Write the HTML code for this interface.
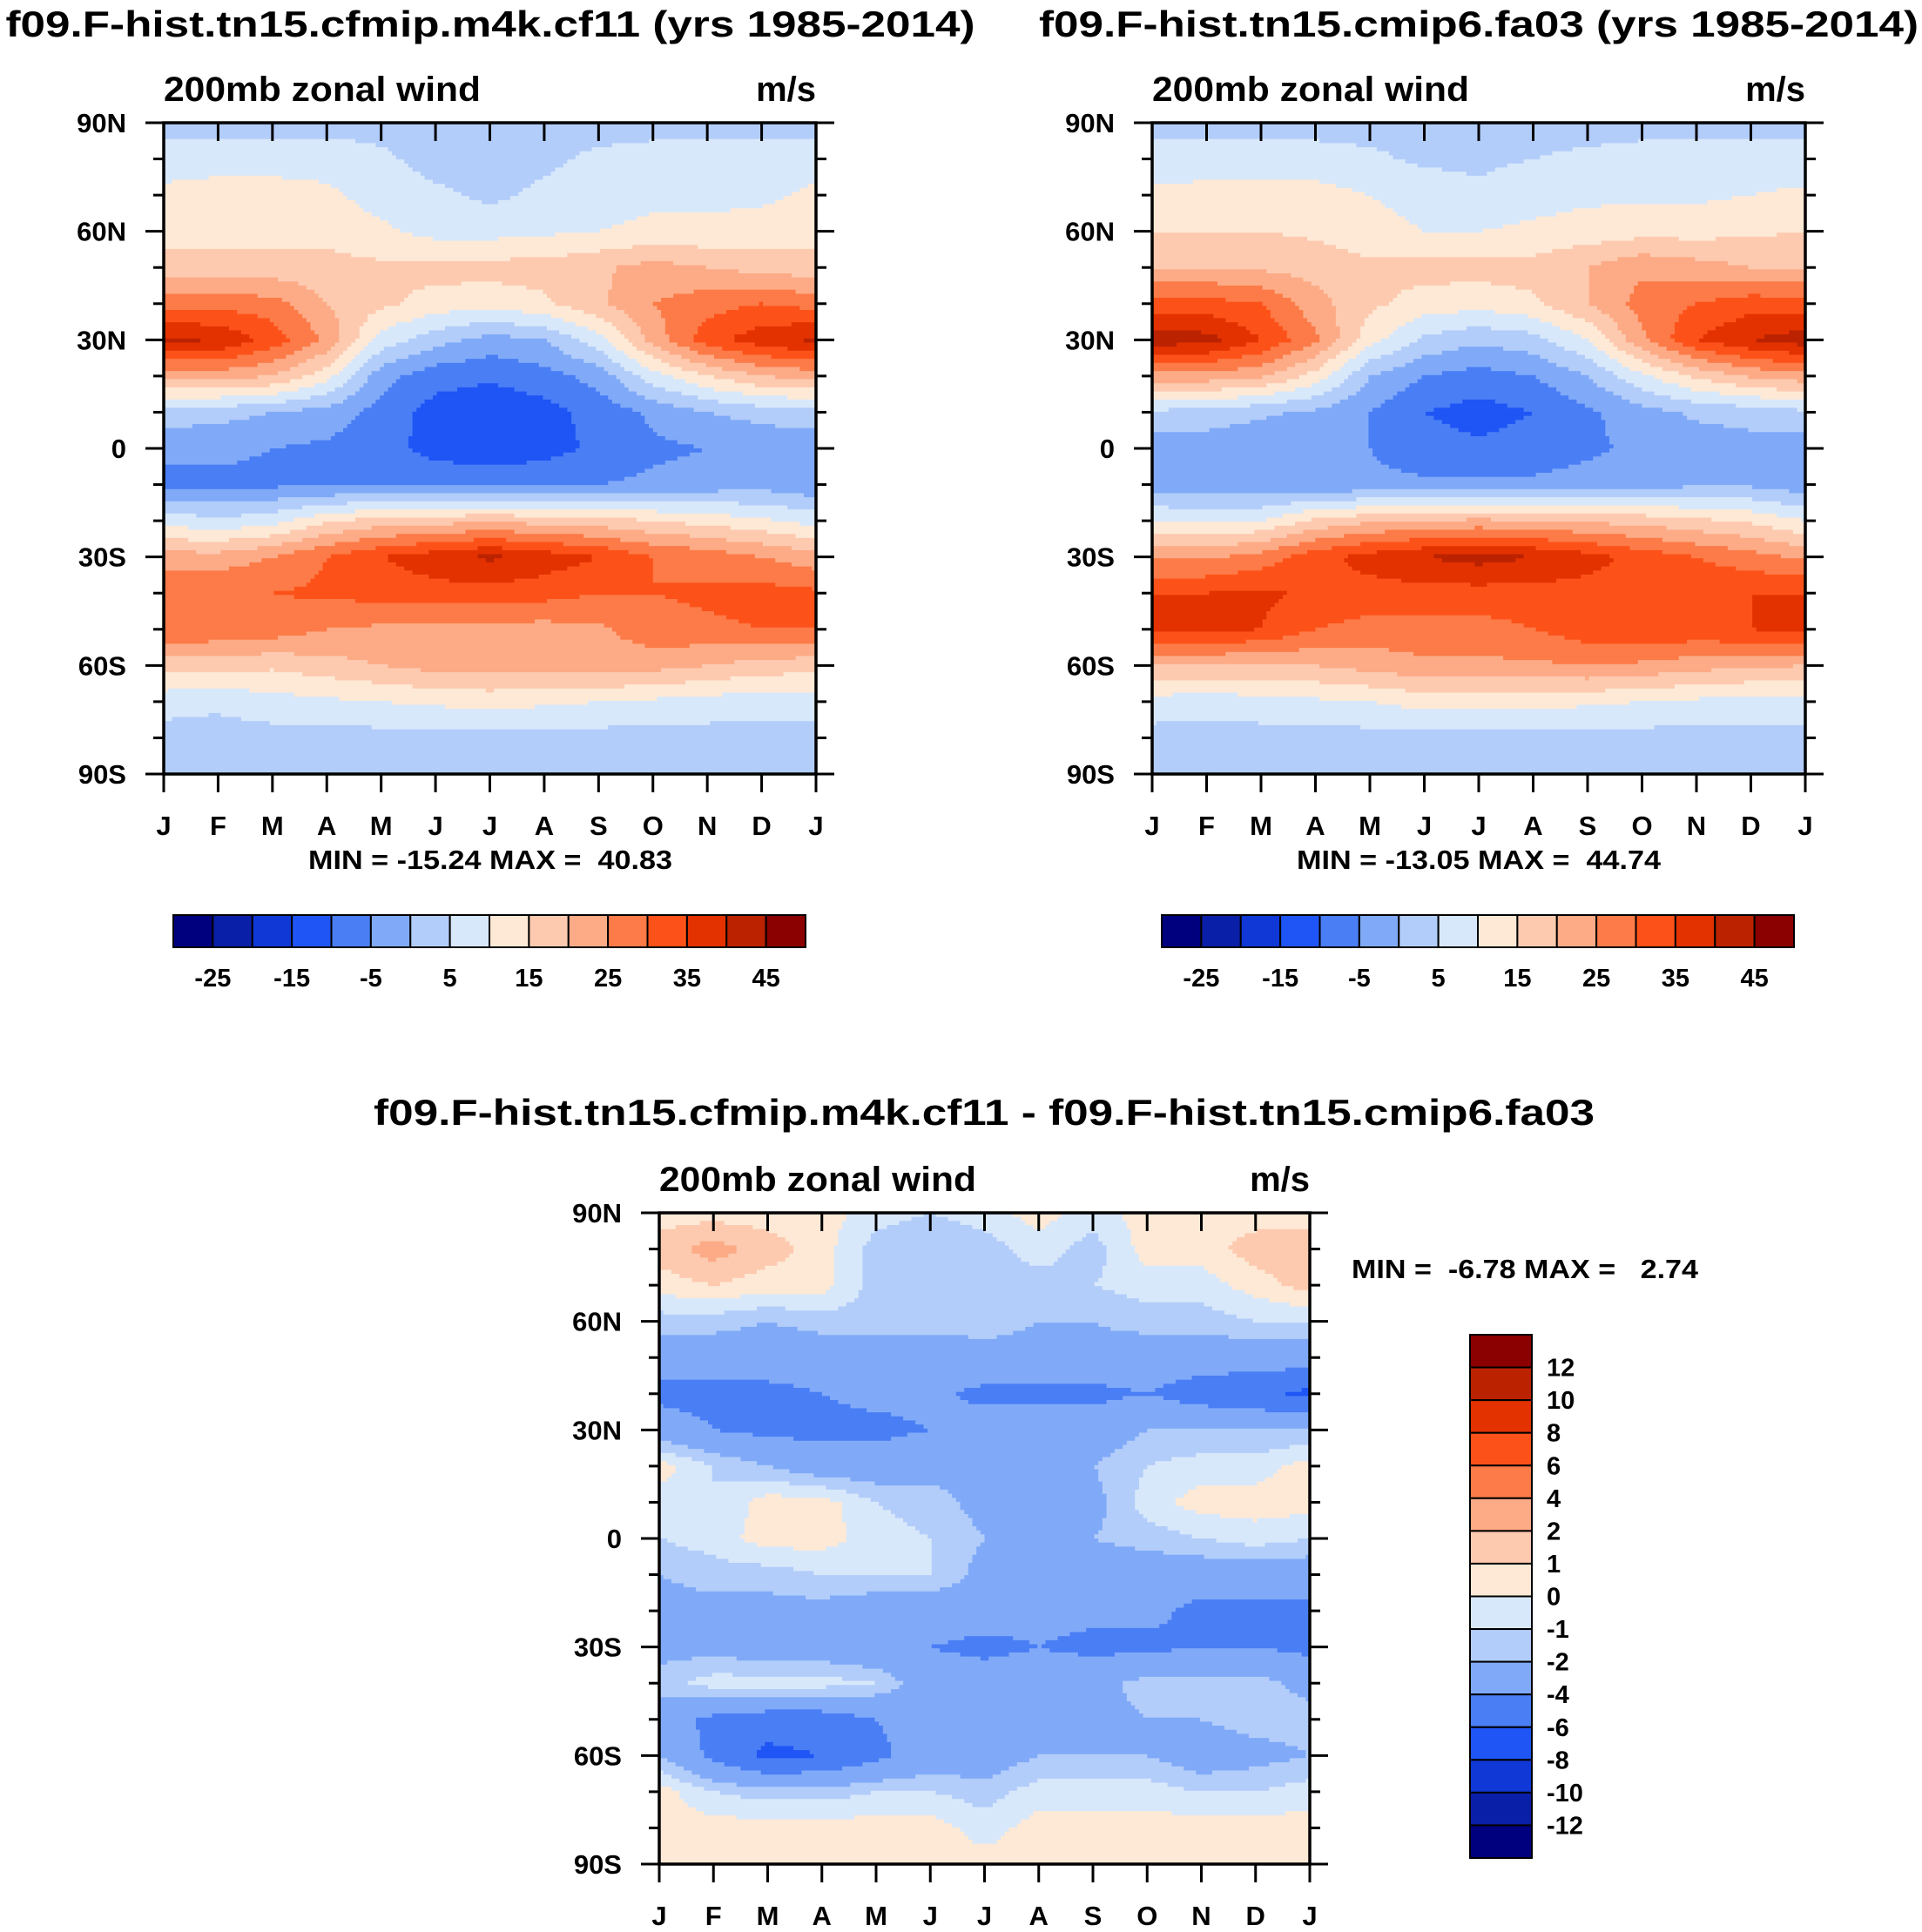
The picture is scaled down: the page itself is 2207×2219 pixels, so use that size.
<!DOCTYPE html>
<html><head><meta charset="utf-8">
<style>
html,body{margin:0;padding:0;background:#fff;}
svg{display:block;font-family:"Liberation Sans",Arial,sans-serif;font-weight:bold;}
text{white-space:pre;}
</style></head>
<body>
<svg id="root" width="2207" height="2219" viewBox="0 0 2207 2219" xmlns="http://www.w3.org/2000/svg" xml:space="preserve">
<rect width="2207" height="2219" fill="#fff"/>
</svg>
<script>
// ---- data ----
const months = ["J","F","M","A","M","J","J","A","S","O","N","D","J"];
const latLabels = ["90N","60N","30N","0","30S","60S","90S"];
const lats = [90,80,70,60,50,40,30,20,10,0,-10,-20,-30,-40,-50,-60,-70,-80,-90];
const topLevels = [-25,-20,-15,-10,-5,0,5,10,15,20,25,30,35,40,45];
const topTickLabels = ["-25","-15","-5","5","15","25","35","45"];
const diffLevels = [-12,-10,-8,-6,-4,-2,-1,0,1,2,4,6,8,10,12];
const diffTickLabels = ["12","10","8","6","4","2","1","0","-1","-2","-4","-6","-8","-10","-12"];
const colors = ["#00007f","#0a1fa8","#0f38d6","#1f55f5","#4a7ef5","#80aaf8","#b3cdfa","#d8e8fb",
 "#fde9d6","#fdcab0","#fcab86","#fc7b48","#fc5219","#e33200","#bb2200","#8b0000"];

const panelA = [
 [3,3,3,3,3,3,3,3,3,3,3,3,3],
 [8,8,8,8,6,3,3,4,6,7,8,8,8],
 [11,12,12,11,8,6,4,6,8,9,9,9,11],
 [13,13,13,13,11,8,8,9,10,11,11,12,13],
 [17,17,17,17,16,17,17,17,19,22,20,18,17],
 [28,28,27,20,16,13,12,14,19,25,28,30,28],
 [41,40,33,24,8,2,-2,0,8,22,33,38,41],
 [22,22,20,12,-3,-8,-9,-7,-3,8,15,20,22],
 [3,2,0,-2,-7,-12,-14,-12,-8,-4,0,2,3],
 [-4,-4,-5,-6,-8,-12,-14,-12,-9,-6,-5,-4,-3],
 [-6,-6,-6,-6,-6,-6,-6,-6,-5,-4,-3,-2,-4],
 [8,6,8,14,17,18,19,18,17,15,13,11,8],
 [22,22,25,30,35,38,41,38,35,30,28,25,22],
 [30,30,30,31,32,33,33,32,30,30,31,32,31],
 [30,29,28,25,24,23,23,23,24,28,29,30,30],
 [17,17,16,18,20,22,22,22,23,22,20,18,17],
 [7,6,8,9,10,11,12,11,10,9,8,7,7],
 [3,3,3,3,3,3,3,3,3,3,3,3,3],
 [2,2,2,2,2,2,2,2,2,2,2,2,2]
];
const panelB = [
 [3,3,3,3,3,3,3,3,3,3,3,3,3],
 [7,7,7,7,6,4,4,5,6,7,7,7,7],
 [11,12,12,12,10,8,6,8,9,9,9,10,11],
 [15,15,15,14,12,10,10,11,12,13,13,14,15],
 [20,20,19,18,16,17,17,17,20,24,22,20,20],
 [32,32,30,22,16,13,12,14,20,27,30,33,32],
 [43,42,35,26,12,4,1,3,10,24,35,40,43],
 [23,23,21,13,0,-5,-7,-5,0,9,16,21,23],
 [4,3,1,-1,-5,-10,-12,-10,-6,-2,1,2,4],
 [-3,-3,-4,-4,-5,-8,-9,-8,-6,-4,-3,-2,-4],
 [-3,-3,-4,-4,-4,-4,-4,-4,-3,-2,-1,-1,-3],
 [10,9,10,16,19,20,21,20,19,18,16,14,10],
 [24,24,27,33,37,40,42,40,37,33,30,27,24],
 [35,35,36,34,33,33,33,33,33,33,34,35,35],
 [36,36,35,30,28,28,28,30,33,34,34,35,36],
 [20,20,20,20,22,24,24,24,25,24,22,21,20],
 [8,7,8,9,10,12,12,12,11,10,9,8,8],
 [3,3,3,3,3,3,3,3,3,3,3,3,3],
 [2,2,2,2,2,2,2,2,2,2,2,2,2]
];
const panelC = [
 [0.5,0.5,0.5,0.5,-0.5,-1,-0.5,0.5,-0.5,0.5,0.5,0.5,0.5],
 [1.5,2.5,1.5,0.5,-1.5,-2,-1.5,-0.5,-1.5,0.5,0.5,1.5,1.5],
 [0.5,1,0.5,0.5,-1.5,-1.5,-1.5,-1.5,-1,-0.5,-0.5,0.5,1.5],
 [-1.5,-1.5,-2,-1.5,-1.5,-1.5,-1.5,-2,-2,-1.5,-1.5,-1,-1],
 [-3,-3,-3,-3,-3,-3,-2.5,-2.5,-2.5,-3,-3,-3,-3],
 [-4.5,-4.5,-4.5,-4,-3.5,-3.5,-4.5,-4.5,-4.5,-4,-5,-5.5,-6.5],
 [-3,-4,-4.5,-4.5,-4.5,-4,-3,-3,-3,-2,-2,-2,-2],
 [0.5,-1,-2,-3,-3,-2.5,-2.5,-2.5,-2,-1,-0.5,-0.5,0.5],
 [-0.5,-1,0.5,0.5,-1,-1.5,-2.5,-3,-2.5,-0.5,0.5,0.5,0.5],
 [-1,-0.5,0.5,0.5,-0.5,-1,-2,-2.5,-2,-1.5,-1,-0.5,-1],
 [-2,-1.5,-1.5,-1,-1,-1,-2.5,-3,-3,-3,-3,-3,-3],
 [-2.5,-2.5,-2.5,-2.5,-3,-3,-3,-3.5,-3.5,-3.5,-4.5,-4.5,-4.5],
 [-2.5,-2.5,-3,-3,-3.5,-4,-4.5,-4,-4.5,-4.5,-4,-4,-4.5],
 [-1.5,-0.5,-0.5,-0.5,-1,-3,-3,-3,-2.5,-1.5,-1.5,-1.5,-2.5],
 [-3,-4.5,-5,-5,-4,-3,-2.5,-2.5,-2.5,-2,-2,-1.5,-1.5],
 [-2,-4.5,-6.5,-6,-4.5,-3,-3,-2,-2,-2,-3,-2.5,-2],
 [0.5,-1,-1.5,-1.5,-1,-1,-1.5,-0.5,-0.5,-0.5,-1,-1,-0.5],
 [0.5,0.5,0.5,0.5,0.5,0.5,-0.5,0.5,0.5,0.5,0.5,0.5,0.5],
 [0.5,0.5,0.5,0.5,0.5,0.5,0.5,0.5,0.5,0.5,0.5,0.5,0.5]
];

// ---- drawing ----
const NS="http://www.w3.org/2000/svg";
const root=document.getElementById('root');
function el(tag,attrs,parent){const e=document.createElementNS(NS,tag);for(const k in attrs)e.setAttribute(k,attrs[k]);(parent||root).appendChild(e);return e;}
function txt(s,x,y,size,anchor,parent,len){const t=el('text',{x:x,y:y,'font-size':size,'text-anchor':anchor||'start',fill:'#000'},parent);if(len){t.setAttribute('textLength',len);t.setAttribute('lengthAdjust','spacingAndGlyphs');}t.textContent=s;return t;}
function colorFor(v,levels){let i=0;while(i<levels.length&&v>=levels[i])i++;return colors[i];}
function sample(grid,m,lat){
  const r=(90-lat)/10, r0=Math.min(17,Math.floor(r)), fr=r-r0;
  const c0=Math.min(11,Math.floor(m)), fc=m-c0;
  const a=grid[r0][c0],b=grid[r0][c0+1],c=grid[r0+1][c0],d=grid[r0+1][c0+1];
  return (a*(1-fc)+b*fc)*(1-fr)+(c*(1-fc)+d*fc)*fr;
}
function panel(name,grid,levels,x0,y0,w,h){
  const g=el('g',{},root);
  
  
  const xm=m=>x0+m/12*w, yl=l=>y0+(90-l)/180*h;
  const NX=160,NY=160,cw=w/NX,ch=h/NY;
  for(let j=0;j<NY;j++){
    const lat=90-(j+0.5)/NY*180;
    let start=0,cur=null;
    for(let i=0;i<=NX;i++){
      const col=i<NX?colorFor(sample(grid,(i+0.5)/NX*12,lat),levels):null;
      if(col!==cur){
        if(cur!==null){const r=el('rect',{x:(x0+start*cw).toFixed(1),y:(y0+j*ch).toFixed(1),width:((i-start)*cw+0.6).toFixed(1),height:(ch+0.6).toFixed(1),fill:cur},g);
          
          }
        cur=col;start=i;
      }
    }
  }
  el('rect',{x:x0,y:y0,width:w,height:h,fill:'none',stroke:'#000','stroke-width':3.5},g);
  for(let l=-90;l<=90;l+=10){
    const y=yl(l), major=l%30===0, L=major?21:12;
    el('line',{x1:x0-L,y1:y,x2:x0,y2:y,stroke:'#000','stroke-width':3},g);
    el('line',{x1:x0+w,y1:y,x2:x0+w+L,y2:y,stroke:'#000','stroke-width':3},g);
  }
  latLabels.forEach((s,i)=>{const t=txt(s,x0-43,yl(90-i*30)+11,31,'end',g);
    
    });
  months.forEach((s,i)=>{
    const x=xm(i);
    el('line',{x1:x,y1:y0,x2:x,y2:y0+21,stroke:'#000','stroke-width':3},g);
    el('line',{x1:x,y1:y0+h,x2:x,y2:y0+h+21,stroke:'#000','stroke-width':3},g);
    const t=txt(s,x,y0+h+70,31,'middle',g);
    
    
  });
  const st=txt('200mb zonal wind',x0,y0-25,40,'start',g,364);
  
  
  const u=txt('m/s',x0+w,y0-25,40,'end',g);
  
  
}
function hbar(name,x0,y0,w,h){
  const g=el('g',{},root);
  
  
  const bw=w/16;
  colors.forEach((c,i)=>{const r=el('rect',{x:x0+i*bw,y:y0,width:bw,height:h,fill:c,stroke:'#000','stroke-width':2},g);
    
    });
  topTickLabels.forEach((s,k)=>{const t=txt(s,x0+(1+2*k)*bw,y0+h+45,29,'middle',g);
    
    });
}
function vbar(name,x0,y0,w,h){
  const g=el('g',{},root);
  
  
  const bh=h/16;
  colors.slice().reverse().forEach((c,i)=>{const r=el('rect',{x:x0,y:y0+i*bh,width:w,height:bh,fill:c,stroke:'#000','stroke-width':2},g);
    
    });
  diffTickLabels.forEach((s,k)=>{const t=txt(s,x0+w+17,y0+(k+1)*bh+10,29,'start',g);
    
    });
}

let t;
t=txt('f09.F-hist.tn15.cfmip.m4k.cf11 (yrs 1985-2014)',563,42,42,'middle',root,1113);


t=txt('f09.F-hist.tn15.cmip6.fa03 (yrs 1985-2014)',1698,42,42,'middle',root,1010);


t=txt('f09.F-hist.tn15.cfmip.m4k.cf11 - f09.F-hist.tn15.cmip6.fa03',1130,1292,42,'middle',root,1402);



panel('panel-cfmip',panelA,topLevels,188,141,749,748);
panel('panel-cmip6',panelB,topLevels,1323,141,750,748);
panel('panel-difference',panelC,diffLevels,757,1393,747,748);

t=txt('MIN = -15.24 MAX =  40.83',563,998,31,'middle',root,418);


t=txt('MIN = -13.05 MAX =  44.74',1698,998,31,'middle',root,418);


t=txt('MIN =  -6.78 MAX =   2.74',1552,1468,31,'start',root,398);



hbar('colorbar-left',199,1051,726,37);
hbar('colorbar-right',1334,1051,726,37);
vbar('colorbar-difference',1688,1533,71,601);
</script>
</body></html>
